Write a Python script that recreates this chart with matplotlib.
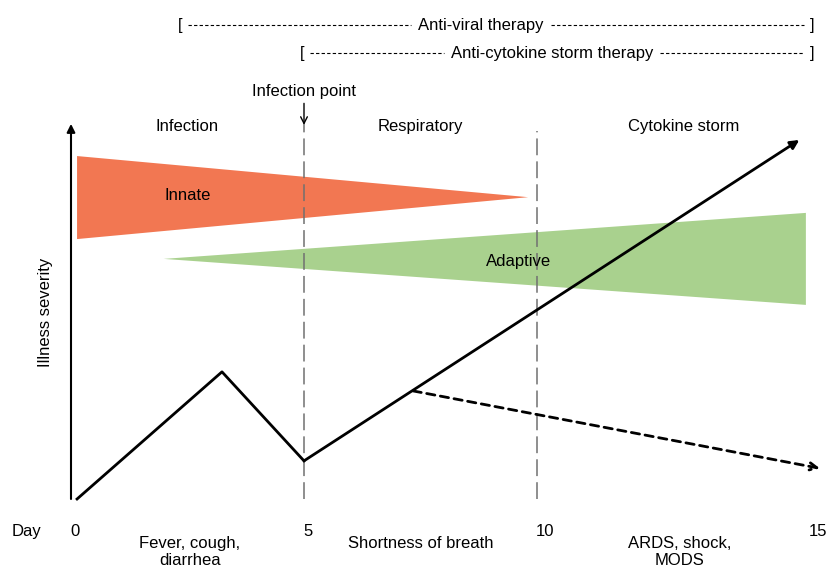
import numpy as np
import matplotlib.pyplot as plt
from matplotlib.patches import Polygon

plt.rcParams['font.family'] = ['Liberation Sans', 'DejaVu Sans']

# course of illness: day vs severity (arbitrary units, 0-100)
course_days = [0.13, 3.24, 5.0, 15.63]
course_sev = [0, 34, 10.2, 96]
# recovery branch (dashed)
recov_days = [7.34, 16.07]
recov_sev = [28.9, 8.2]

# immune response wedges (day, severity)
innate_x = [0.13, 0.13, 9.81]
innate_y = [91.7, 69.5, 80.7]
adaptive_x = [1.99, 15.77, 15.77]
adaptive_y = [64.2, 76.5, 51.9]

phase_lines = [5.0, 10.0]
phase_names = ["Infection", "Respiratory", "Cytokine storm"]
phase_pos = [2.5, 7.5, 13.15]
symptoms = ["Fever, cough,\ndiarrhea", "Shortness of breath", "ARDS, shock,\nMODS"]
symptom_pos = [2.55, 7.5, 13.06]
symptom_y = [-14.2, -11.8, -14.2]
day_ticks = ["0", "5", "10", "15"]
day_tick_pos = [0.09, 5.09, 10.17, 16.02]

# therapy brackets: (start day, end day, label, label centre)
therapies = [(2.34, 15.9, "Anti-viral therapy", 8.8),
             (4.96, 15.9, "Anti-cytokine storm therapy", 10.32)]

FS = 12

# pixel mapping: x_px = 71 + 46.6*day, y_px = 499 - 3.74*sev
fig = plt.figure(figsize=(8.3, 5.67), dpi=100)
ax = fig.add_axes([0, 0, 1, 1])
ax.set_xlim(-71 / 46.6, (830 - 71) / 46.6)
ax.set_ylim(-(567 - 499) / 3.74, 499 / 3.74)
ax.axis('off')

orange = '#F27752'
green = '#A9D18E'

ax.add_patch(Polygon(np.column_stack([innate_x, innate_y]), closed=True,
                     facecolor=orange, edgecolor='none'))
ax.add_patch(Polygon(np.column_stack([adaptive_x, adaptive_y]), closed=True,
                     facecolor=green, edgecolor='none'))
ax.text(2.5, 81.2, "Innate", ha='center', va='center', fontsize=FS)
ax.text(9.6, 63.5, "Adaptive", ha='center', va='center', fontsize=FS)

# axes with arrows
ax.annotate('', xy=(0, 100.3), xytext=(0, 0),
            arrowprops=dict(arrowstyle='-|>', color='black', lw=1.5,
                            mutation_scale=12, shrinkA=0, shrinkB=0))
ax.annotate('', xy=(16.3, 0), xytext=(0, 0),
            arrowprops=dict(arrowstyle='-|>', color='black', lw=1.5,
                            mutation_scale=12, shrinkA=0, shrinkB=0))

# phase dividers
for d, top in zip(phase_lines, [100.3, 98.5]):
    ax.plot([d, d], [0, top], color='#707070', lw=1.1, ls=(0, (11, 4)))

# illness course
ax.plot(course_days[:-1], course_sev[:-1], color='black', lw=2)
ax.annotate('', xy=(course_days[-1], course_sev[-1]),
            xytext=(course_days[-2], course_sev[-2]),
            arrowprops=dict(arrowstyle='-|>', color='black', lw=2,
                            mutation_scale=13, shrinkA=0, shrinkB=0))
ax.annotate('', xy=(recov_days[1], recov_sev[1]),
            xytext=(recov_days[0], recov_sev[0]),
            arrowprops=dict(arrowstyle='->', color='black', lw=2,
                            linestyle=(0, (3, 2)), mutation_scale=13,
                            shrinkA=0, shrinkB=0))

# infection point
ax.annotate('Infection point', xy=(5.0, 100.0), xytext=(5.0, 106.9),
            ha='center', va='bottom', fontsize=FS,
            arrowprops=dict(arrowstyle='->', color='black', lw=1,
                            shrinkA=1, shrinkB=0))

for name, x in zip(phase_names, phase_pos):
    ax.text(x, 99.6, name, ha='center', va='center', fontsize=FS)

# bottom labels
ax.text(-0.95, -8.6, "Day", ha='center', va='center', fontsize=FS)
for lab, x in zip(day_ticks, day_tick_pos):
    ax.text(x, -8.6, lab, ha='center', va='center', fontsize=FS)
for lab, x, y in zip(symptoms, symptom_pos, symptom_y):
    ax.text(x, y, lab, ha='center', va='center', fontsize=FS,
            linespacing=1.12)

ax.text(-0.55, 50, "Illness severity", rotation=90, ha='center', va='center',
        fontsize=FS)

# therapy brackets
fig.canvas.draw()
inv = ax.transData.inverted()
for (x0, x1, lab, xc), y in zip(therapies, [126.7, 119.2]):
    t = ax.text(xc, y, lab, ha='center', va='center', fontsize=FS)
    ax.text(x0, y, "[", ha='center', va='center', fontsize=FS)
    ax.text(x1, y, "]", ha='center', va='center', fontsize=FS)
    bb = t.get_window_extent(renderer=fig.canvas.get_renderer())
    left = inv.transform((bb.x0, 0))[0]
    right = inv.transform((bb.x1, 0))[0]
    ax.plot([x0 + 0.17, left - 0.15], [y, y], color='black', lw=0.8,
            ls=(0, (3, 2)))
    ax.plot([right + 0.15, x1 - 0.17], [y, y], color='black', lw=0.8,
            ls=(0, (3, 2)))

fig.savefig('out.png', dpi=100)
